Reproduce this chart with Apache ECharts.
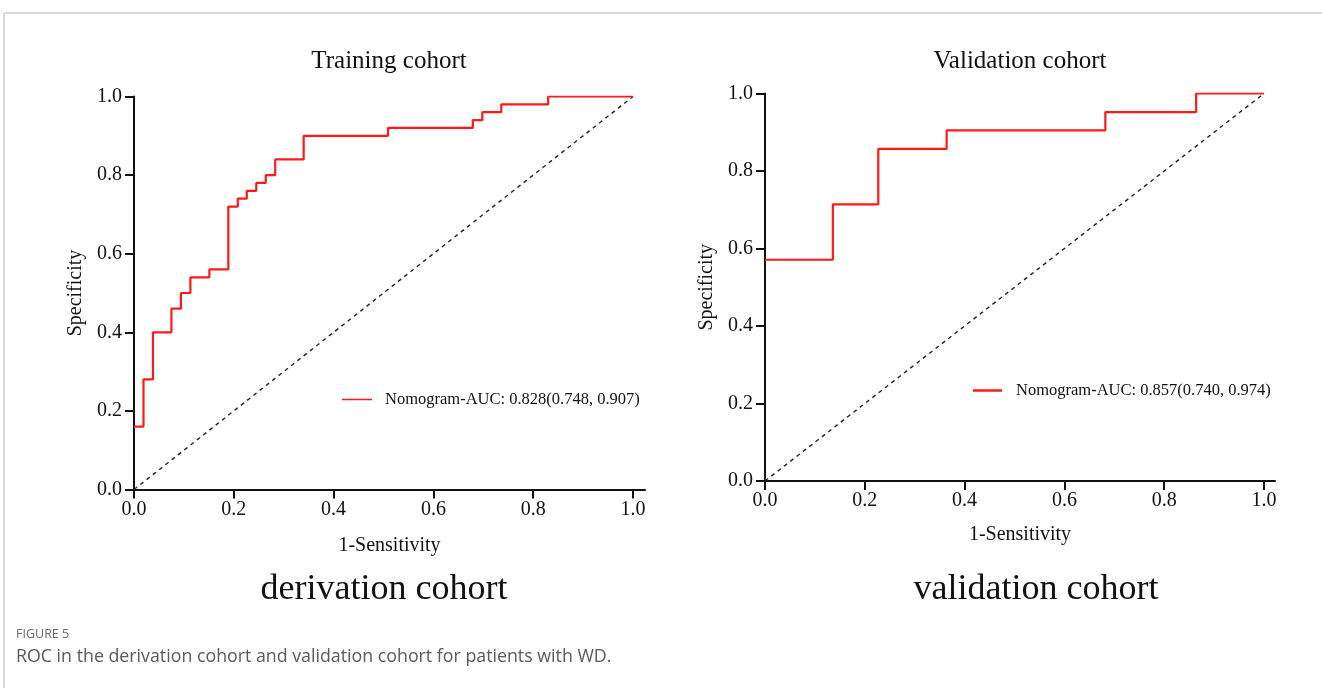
<!DOCTYPE html>
<html>
<head>
<meta charset="utf-8">
<script src="https://cdn.jsdelivr.net/npm/echarts@6/dist/echarts.min.js"></script>
<style>
html,body{margin:0;padding:0;background:#fff;}
#chart{width:1322px;height:688px;}
</style>
</head>
<body>
<div id="chart"></div>
<script>
// Training cohort ROC step points [1-Sensitivity, Specificity]
var trainX = [0, 0.019, 0.038, 0.075, 0.094, 0.113, 0.151, 0.189, 0.208, 0.226, 0.245, 0.264, 0.283, 0.340, 0.509, 0.679, 0.698, 0.736, 0.830, 1.0];
var trainY = [0.16, 0.28, 0.40, 0.46, 0.50, 0.54, 0.56, 0.72, 0.74, 0.76, 0.78, 0.80, 0.84, 0.90, 0.92, 0.94, 0.96, 0.98, 1.0, 1.0];
// Validation cohort ROC step points
var validX = [0, 0.136, 0.227, 0.364, 0.682, 0.864, 1.0];
var validY = [0.571, 0.714, 0.857, 0.905, 0.952, 1.0, 1.0];
// Reference diagonal
var diagX = [0, 1];
var diagY = [0, 1];
var tickValues = [0, 0.2, 0.4, 0.6, 0.8, 1.0];
var trainName = 'Nomogram-AUC: 0.828(0.748, 0.907)';
var validName = 'Nomogram-AUC: 0.857(0.740, 0.974)';
var panelTitles = ['Training cohort', 'Validation cohort'];
var panelCaptions = ['derivation cohort', 'validation cohort'];
var xName = '1-Sensitivity';
var yName = 'Specificity';
var figLabel = 'FIGURE 5';
var figCaption = 'ROC in the derivation cohort and validation cohort for patients with WD.';

function zip(a, b) { return a.map(function (v, i) { return [v, b[i]]; }); }

var serif = 'Liberation Serif';
var ink = '#111';

function xAxisCfg(gi) {
  return {
    type: 'value', gridIndex: gi, min: 0, max: gi === 0 ? 1.024 : 1.022,
    name: xName, nameLocation: 'middle', nameGap: gi === 0 ? 46 : 44,
    nameTextStyle: { fontFamily: serif, fontSize: 20, color: ink },
    axisLine: { show: true, onZero: false, lineStyle: { color: ink, width: 2 } },
    axisTick: { show: true, length: 9, lineStyle: { color: ink, width: 2 }, customValues: tickValues },
    axisLabel: { fontFamily: serif, fontSize: 20, color: ink, margin: 10, customValues: tickValues,
      formatter: function (v) { return v.toFixed(1); } },
    splitLine: { show: false }
  };
}
function yAxisCfg(gi) {
  return {
    type: 'value', gridIndex: gi, min: 0, max: 1, interval: 0.2,
    name: yName, nameLocation: 'middle', nameGap: 48,
    nameTextStyle: { fontFamily: serif, fontSize: 20, color: ink },
    axisLine: { show: true, onZero: false, lineStyle: { color: ink, width: 2 } },
    axisTick: { show: true, length: 9, lineStyle: { color: ink, width: 2 } },
    axisLabel: { fontFamily: serif, fontSize: 20, color: ink, margin: 12,
      formatter: function (v) { return v.toFixed(1); } },
    splitLine: { show: false }
  };
}

var chart = echarts.init(document.getElementById('chart'), null, { renderer: 'canvas' });
chart.setOption({
  animation: false,
  backgroundColor: '#fff',
  title: [
    { text: panelTitles[0], left: 384, top: 44, textAlign: 'center',
      textStyle: { fontFamily: serif, fontSize: 25, fontWeight: 'normal', color: ink } },
    { text: panelTitles[1], left: 1015, top: 44, textAlign: 'center',
      textStyle: { fontFamily: serif, fontSize: 25, fontWeight: 'normal', color: ink } },
    { text: panelCaptions[0], left: 379, top: 567, textAlign: 'center',
      textStyle: { fontFamily: serif, fontSize: 36, fontWeight: 'normal', color: ink } },
    { text: panelCaptions[1], left: 1031, top: 567, textAlign: 'center',
      textStyle: { fontFamily: serif, fontSize: 36, fontWeight: 'normal', color: ink } },
    { text: figLabel, left: 11, top: 623,
      textStyle: { fontFamily: 'Open Sans', fontSize: 12.5, fontWeight: 'normal', color: '#6b6b6b' } },
    { text: figCaption, left: 11, top: 643,
      textStyle: { fontFamily: 'Open Sans', fontSize: 17.8, fontWeight: 'normal', color: '#5a5a5a' } }
  ],
  graphic: [
    { type: 'line', shape: { x1: 4, y1: 13, x2: 1322, y2: 13 }, style: { stroke: '#cccccc', lineWidth: 1.5 } },
    { type: 'line', shape: { x1: 4, y1: 13, x2: 4, y2: 688 }, style: { stroke: '#cccccc', lineWidth: 1.5 } }
  ],
  legend: [
    { data: [trainName], left: 337, top: 386, icon: 'rect', itemWidth: 30, itemHeight: 1.5,
      textStyle: { fontFamily: serif, fontSize: 16.5, color: ink, padding: [0, 0, 0, 8] } },
    { data: [validName], left: 968, top: 377, icon: 'rect', itemWidth: 29, itemHeight: 2.5,
      textStyle: { fontFamily: serif, fontSize: 16.5, color: ink, padding: [0, 0, 0, 9] } }
  ],
  grid: [
    { left: 134, top: 96.5, width: 511, height: 393, containLabel: false },
    { left: 765, top: 93.5, width: 510, height: 387.5, containLabel: false }
  ],
  xAxis: [xAxisCfg(0), xAxisCfg(1)],
  yAxis: [yAxisCfg(0), yAxisCfg(1)],
  series: [
    { type: 'line', name: 'diag0', xAxisIndex: 0, yAxisIndex: 0, data: zip(diagX, diagY),
      showSymbol: false, silent: true, lineStyle: { color: '#222', width: 1.4, type: [4, 4] } },
    { type: 'line', name: 'diag1', xAxisIndex: 1, yAxisIndex: 1, data: zip(diagX, diagY),
      showSymbol: false, silent: true, lineStyle: { color: '#222', width: 1.4, type: [4, 4] } },
    { type: 'line', name: trainName, xAxisIndex: 0, yAxisIndex: 0, data: zip(trainX, trainY),
      step: 'end', showSymbol: false, symbol: 'none', itemStyle: { color: '#ff1a1a' },
      lineStyle: { color: '#ff1a1a', width: 2.2 } },
    { type: 'line', name: validName, xAxisIndex: 1, yAxisIndex: 1, data: zip(validX, validY),
      step: 'end', showSymbol: false, symbol: 'none', itemStyle: { color: '#ff1a1a' },
      lineStyle: { color: '#ff1a1a', width: 2.2 } }
  ]
});
</script>
</body>
</html>
